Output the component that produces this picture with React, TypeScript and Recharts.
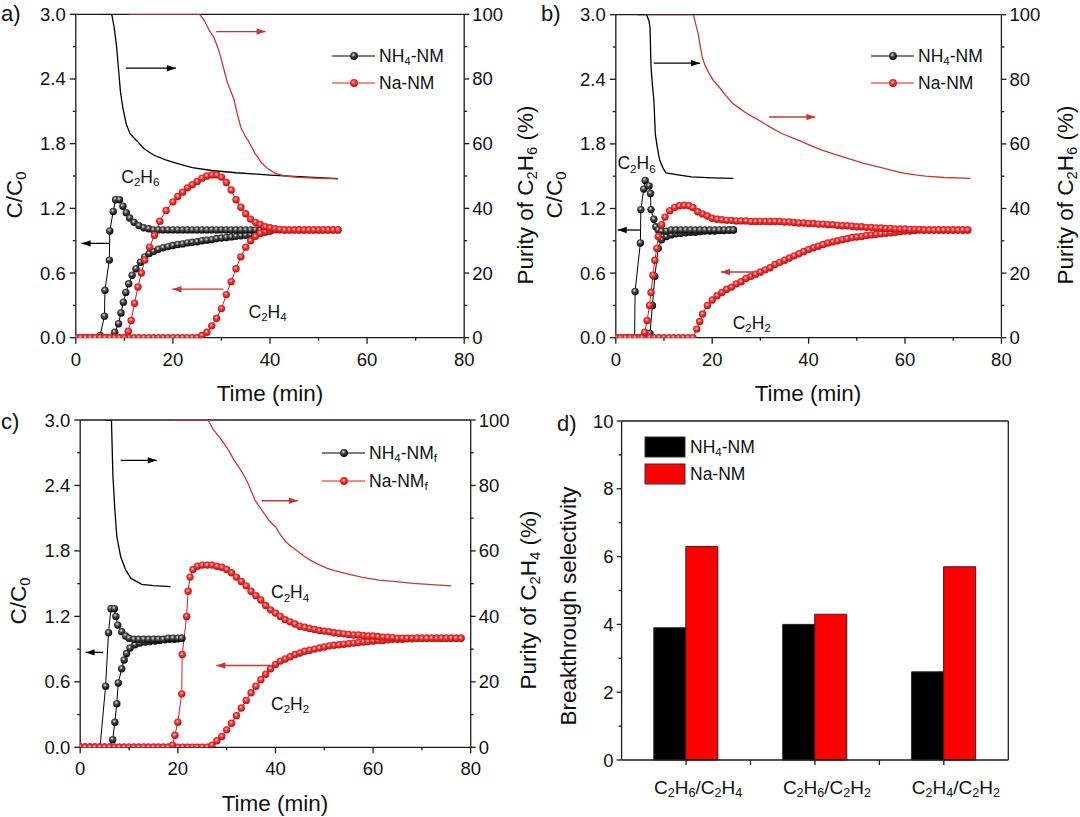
// App.tsx — four-panel breakthrough figure (a–c: C/C0 + purity, d: selectivity bars).

import React from 'react';
import {
  LineChart,
  Line,
  XAxis,
  YAxis,
  ReferenceLine,
  ReferenceDot,
  BarChart,
  Bar,
} from 'recharts';

type Pt = [number, number];

const FONT = '"Liberation Sans", Arial, Helvetica, sans-serif';
const AX = '#1c1c1c';
const K_LINE = '#000000';
const R_LINE = '#e01a1a';
const R_PURITY = '#c63a34';

// ---------- panel a: C2H6 / C2H4 ----------
const aNH4Ethane: Pt[] = [
  [0, 0], [1, 0], [2, 0], [3, 0], [4, 0], [5, 0.02], [5.9, 0.2], [6, 0.44], [6.9, 0.72], [7, 0.99],
  [7.7, 1.17], [8.2, 1.28], [9, 1.28], [9.7, 1.22], [10.4, 1.16], [11.1, 1.11], [12, 1.07], [13, 1.04],
  [14, 1.02], [15, 1.01], [16, 1], [17, 1], [18, 1], [19, 1], [20, 1], [21, 1], [22, 1], [23, 1], [24, 1],
  [25, 1], [26, 1], [27, 1], [28, 1], [29, 1], [30, 1], [31, 1], [32, 1], [33, 1], [34, 1], [35, 1],
  [36, 1], [37, 1], [38, 1], [39, 1], [40, 1],
];
const aNH4Ethylene: Pt[] = [
  [0, 0], [1, 0], [2, 0], [3, 0], [4, 0], [5, 0], [6, 0], [7, 0], [8, 0.05], [8.8, 0.13], [9.3, 0.23],
  [9.8, 0.33], [10.3, 0.42], [10.9, 0.5], [11.6, 0.58], [12.4, 0.64], [13.3, 0.7], [14.2, 0.75],
  [15.1, 0.78], [16, 0.8], [17, 0.82], [18, 0.835], [19, 0.845], [20, 0.855], [21, 0.865], [22, 0.87],
  [23, 0.88], [24, 0.885], [25, 0.89], [26, 0.9], [27, 0.905], [28, 0.91], [29, 0.92], [30, 0.925],
  [31, 0.93], [32, 0.935], [33, 0.94], [34, 0.945], [35, 0.95], [36, 0.955], [37, 0.96], [38, 0.97],
  [39, 0.98], [40, 0.99],
];
const aNaEthane: Pt[] = [
  [0, 0], [1, 0], [2, 0], [3, 0], [4, 0], [5, 0], [6, 0], [7, 0], [8, 0], [9, 0], [10, 0], [10.8, 0.06],
  [11.4, 0.16], [12.1, 0.32], [12.8, 0.47], [13.5, 0.6], [14.2, 0.72], [15.2, 0.84], [16.2, 0.95],
  [17.3, 1.08], [18.6, 1.18], [20, 1.26], [21, 1.31], [22, 1.35], [23, 1.39], [24, 1.42], [25, 1.45],
  [26, 1.48], [27, 1.5], [28, 1.51], [29, 1.51], [30, 1.49], [31, 1.44], [32, 1.37], [33, 1.28],
  [34, 1.21], [35, 1.15], [36, 1.1], [37, 1.07], [38, 1.05], [39, 1.03], [40, 1.02], [41, 1.01],
  [42, 1.005], [43, 1], [44, 1], [45, 1], [46, 1], [47, 1], [48, 1], [49, 1], [50, 1], [51, 1], [52, 1],
  [53, 1], [54, 1],
];
const aNaEthylene: Pt[] = [
  [0, 0], [1, 0], [2, 0], [3, 0], [4, 0], [5, 0], [6, 0], [7, 0], [8, 0], [9, 0], [10, 0], [11, 0],
  [12, 0], [13, 0], [14, 0], [15, 0], [16, 0], [17, 0], [18, 0], [19, 0], [20, 0], [21, 0], [22, 0],
  [23, 0], [24, 0], [25, 0], [26, 0.02], [27, 0.05], [28, 0.11], [29, 0.18], [30, 0.27], [31, 0.4],
  [32, 0.52], [33, 0.64], [34, 0.75], [35, 0.84], [36, 0.9], [37, 0.94], [38, 0.97], [39, 0.985],
  [40, 0.995], [41, 1], [42, 1], [43, 1], [44, 1], [45, 1], [46, 1], [47, 1], [48, 1], [49, 1], [50, 1],
  [51, 1], [52, 1], [53, 1], [54, 1],
];
const aNH4Purity: Pt[] = [
  [5, 100], [7.4, 100], [7.9, 96], [8.4, 90], [8.8, 83], [9.2, 76], [9.7, 71], [10.4, 66], [11.2, 63],
  [12.5, 61], [14, 58.5], [16, 56.5], [18.5, 55], [21, 53.8], [24, 52.6], [28, 51.7], [33, 51],
  [40, 50.3], [47, 49.7], [54, 49.2],
];
const aNaPurity: Pt[] = [
  [11, 100], [25.5, 100], [26.5, 98], [27.5, 95], [28.4, 93], [29.2, 90], [29.8, 87], [30.5, 83],
  [31.2, 79], [32, 76], [32.6, 73.5], [33.3, 69], [34, 65], [35, 62], [35.5, 61], [36.2, 59], [36.9, 57],
  [37.6, 55.5], [38.3, 54], [39.5, 52.3], [41.1, 50.8], [43, 50], [46, 49.6], [50, 49.3], [54, 49.1],
];

// ---------- panel b: C2H6 / C2H2 ----------
const bNH4Ethane: Pt[] = [
  [0, 0], [1, 0], [2, 0], [3, 0], [3.9, 0], [4, 0.43], [5.1, 0.88], [5.2, 1.19], [5.8, 1.38], [6.1, 1.46],
  [6.9, 1.41], [7.2, 1.34], [7.3, 1.19], [7.9, 1.1], [8.3, 1.03], [8.8, 1], [9.5, 0.99], [10.5, 0.99],
  [11.5, 1], [12.5, 1], [13.5, 1], [14.5, 1], [15.5, 1], [16.5, 1], [17.5, 1], [18.5, 1], [19.5, 1],
  [20.5, 1], [21.5, 1], [22.5, 1], [23.5, 1], [24.4, 1],
];
const bNH4Acetylene: Pt[] = [
  [0, 0], [1, 0], [2, 0], [3, 0], [4, 0], [5, 0], [6, 0], [6.6, 0], [7.1, 0.04], [7.6, 0.3], [8.1, 0.57],
  [8.8, 0.83], [9.5, 0.91], [10.5, 0.94], [11.5, 0.955], [12.5, 0.965], [13.5, 0.97], [14.5, 0.975],
  [15.5, 0.98], [16.5, 0.98], [17.5, 0.985], [18.5, 0.99], [19.5, 0.99], [20.5, 0.99], [21.5, 0.995],
  [22.5, 0.995], [23.5, 1], [24.4, 1],
];
const bNaEthane: Pt[] = [
  [0, 0], [1, 0], [2, 0], [3, 0], [4, 0], [5, 0], [5.5, 0], [6, 0.05], [6.5, 0.16], [7, 0.3], [7.3, 0.42],
  [7.7, 0.58], [8.1, 0.72], [8.5, 0.83], [8.8, 0.94], [9.5, 1.05], [10.2, 1.12], [11.2, 1.18],
  [12.2, 1.21], [13.2, 1.225], [14.2, 1.23], [15.2, 1.225], [16, 1.21], [17, 1.17], [18, 1.15],
  [19, 1.13], [20, 1.11], [21, 1.1], [22, 1.095], [23, 1.09], [24, 1.09], [25, 1.085], [26, 1.085],
  [27, 1.085], [28, 1.08], [29, 1.08], [30, 1.08], [31, 1.08], [32, 1.08], [33, 1.08], [34, 1.08],
  [35, 1.075], [36, 1.075], [37, 1.07], [38, 1.065], [39, 1.065], [40, 1.06], [41, 1.06], [42, 1.055],
  [43, 1.055], [44, 1.05], [45, 1.05], [46, 1.045], [47, 1.04], [48, 1.04], [49, 1.035], [50, 1.03],
  [51, 1.03], [52, 1.025], [53, 1.025], [54, 1.02], [55, 1.02], [56, 1.015], [57, 1.015], [58, 1.01],
  [59, 1.01], [60, 1.01], [61, 1.005], [62, 1.005], [63, 1.005], [64, 1], [65, 1], [66, 1], [67, 1],
  [68, 1], [69, 1], [70, 1], [71, 1], [72, 1], [73, 1],
];
const bNaAcetylene: Pt[] = [
  [0, 0], [1, 0], [2, 0], [3, 0], [4, 0], [5, 0], [6, 0], [7, 0], [8, 0], [9, 0], [10, 0], [11, 0],
  [12, 0], [13, 0], [14, 0], [15, 0], [16, 0], [16.8, 0.08], [17.4, 0.15], [18, 0.22], [19, 0.3],
  [20, 0.35], [21, 0.39], [22, 0.42], [23, 0.45], [24, 0.47], [25, 0.5], [26, 0.52], [27, 0.55],
  [28, 0.57], [29, 0.59], [30, 0.61], [31, 0.63], [32, 0.65], [33, 0.68], [34, 0.7], [35, 0.72],
  [36, 0.74], [37, 0.76], [38, 0.78], [39, 0.8], [40, 0.82], [41, 0.835], [42, 0.85], [43, 0.865],
  [44, 0.88], [45, 0.89], [46, 0.9], [47, 0.91], [48, 0.92], [49, 0.93], [50, 0.935], [51, 0.94],
  [52, 0.95], [53, 0.955], [54, 0.96], [55, 0.965], [56, 0.97], [57, 0.975], [58, 0.98], [59, 0.985],
  [60, 0.99], [61, 0.99], [62, 0.995], [63, 1], [64, 1], [65, 1], [66, 1], [67, 1], [68, 1], [69, 1],
  [70, 1], [71, 1], [72, 1], [73, 1],
];
const bNH4Purity: Pt[] = [
  [4.5, 100], [6.4, 100], [6.9, 98], [7.1, 96], [7.3, 84], [7.6, 78], [7.9, 73.6], [8.2, 63], [8.6, 59],
  [9.1, 55], [9.8, 52.5], [10.4, 51], [12.9, 50.4], [15.7, 49.8], [20, 49.5], [24.4, 49.3],
];
const bNaPurity: Pt[] = [
  [6.5, 100], [16.1, 100], [16.6, 97], [17.1, 94], [17.9, 87], [18.6, 84], [19.3, 82], [20.3, 79.5],
  [21.4, 77.7], [22.8, 75], [24.3, 72.5], [25.7, 71], [27.1, 69.5], [28.9, 68], [30.7, 66.4],
  [32.5, 64.8], [34.3, 63.3], [36.4, 62], [38.6, 60.7], [40.7, 59.3], [42.9, 58], [45, 57], [47.1, 56],
  [49.3, 55], [51.4, 54], [53.6, 53.2], [55.7, 52.4], [57.9, 51.6], [60, 50.9], [62.1, 50.4],
  [64.3, 50], [68, 49.6], [73.6, 49.3],
];

// ---------- panel c: C2H4 / C2H2 (NMf) ----------
const cNH4Ethylene: Pt[] = [
  [0, 0], [1, 0], [2, 0], [3, 0], [4.06, 0], [5.2, 0.56], [5.8, 1.05], [6.3, 1.27], [7, 1.27], [7.3, 1.2],
  [7.7, 1.12], [8.5, 1.06], [9.3, 1.02], [10, 1], [11, 0.99], [12, 0.99], [13, 0.99], [14, 0.99],
  [15, 0.99], [16, 0.99], [17, 0.99], [18, 1], [19, 1], [20, 1], [20.8, 1],
];
const cNH4Acetylene: Pt[] = [
  [0, 0], [1, 0], [2, 0], [3, 0], [4, 0], [5, 0], [6, 0], [6.65, 0.07], [7.1, 0.23], [7.5, 0.4],
  [7.8, 0.59], [8.5, 0.72], [9, 0.8], [9.5, 0.86], [10.2, 0.91], [11.2, 0.94], [12.2, 0.955],
  [13.3, 0.965], [14.3, 0.97], [15.3, 0.975], [16.3, 0.98], [17.3, 0.985], [18.3, 0.99], [19.3, 0.99],
  [20.1, 0.995], [20.8, 1],
];
const cNaEthylene: Pt[] = [
  [0, 0], [1, 0], [2, 0], [3, 0], [4, 0], [5, 0], [6, 0], [7, 0], [8, 0], [9, 0], [10, 0], [11, 0],
  [12, 0], [13, 0], [14, 0], [15, 0], [16, 0], [17, 0], [18, 0], [18.9, 0.02], [19.4, 0.11], [20, 0.23],
  [20.8, 0.49], [20.9, 0.85], [21.8, 1.2], [22.1, 1.43], [22.5, 1.56], [23.1, 1.63], [24, 1.66],
  [25, 1.67], [26, 1.67], [27, 1.67], [28, 1.66], [29, 1.65], [30, 1.63], [31, 1.6], [32, 1.56],
  [33, 1.52], [34, 1.48], [35, 1.43], [36, 1.39], [37, 1.35], [38, 1.3], [39, 1.26], [40, 1.23],
  [41, 1.2], [42, 1.17], [43, 1.15], [44, 1.13], [45, 1.11], [46, 1.1], [47, 1.09], [48, 1.08],
  [49, 1.07], [50, 1.065], [51, 1.06], [52, 1.05], [53, 1.045], [54, 1.04], [55, 1.035], [56, 1.03],
  [57, 1.03], [58, 1.025], [59, 1.02], [60, 1.02], [61, 1.015], [62, 1.01], [63, 1.01], [64, 1.005],
  [65, 1], [66, 1], [67, 1], [68, 1], [69, 1], [70, 1], [71, 1], [72, 1], [73, 1], [74, 1], [75, 1],
  [76, 1], [77, 1], [78, 1],
];
const cNaAcetylene: Pt[] = [
  [0, 0], [1, 0], [2, 0], [3, 0], [4, 0], [5, 0], [6, 0], [7, 0], [8, 0], [9, 0], [10, 0], [11, 0],
  [12, 0], [13, 0], [14, 0], [15, 0], [16, 0], [17, 0], [18, 0], [19, 0], [20, 0], [21, 0], [22, 0],
  [23, 0], [24, 0], [25, 0], [26, 0], [27, 0.02], [28, 0.06], [29, 0.1], [30, 0.16], [31, 0.22],
  [32, 0.29], [33, 0.36], [34, 0.43], [35, 0.5], [36, 0.56], [37, 0.62], [38, 0.67], [39, 0.72],
  [40, 0.76], [41, 0.79], [42, 0.81], [43, 0.83], [44, 0.85], [45, 0.865], [46, 0.88], [47, 0.89],
  [48, 0.9], [49, 0.91], [50, 0.92], [51, 0.93], [52, 0.935], [53, 0.94], [54, 0.945], [55, 0.95],
  [56, 0.955], [57, 0.96], [58, 0.965], [59, 0.97], [60, 0.975], [61, 0.98], [62, 0.98], [63, 0.985],
  [64, 0.99], [65, 0.99], [66, 0.99], [67, 0.995], [68, 0.995], [69, 1], [70, 1], [71, 1], [72, 1],
  [73, 1], [74, 1], [75, 1], [76, 1], [77, 1], [78, 1],
];
const cNH4Purity: Pt[] = [
  [5.1, 100], [6.4, 100], [6.7, 83], [7.1, 72.5], [7.5, 64.4], [8.3, 58.2], [9.3, 54.2], [10.4, 51.6],
  [12.6, 49.8], [15, 49.4], [18.5, 49.1],
];
const cNaPurity: Pt[] = [
  [18.8, 100], [26.2, 100], [27.3, 97], [28.4, 95], [29.4, 92.9], [30.5, 90.5], [31.5, 87.8],
  [32.2, 86.3], [32.9, 84.7], [33.7, 82.6], [34.4, 80.6], [35.1, 78], [35.8, 75.6], [36.5, 74],
  [37.2, 72.5], [37.9, 71], [38.6, 69.5], [39.3, 68.4], [40, 67.4], [41, 65], [42.1, 62.8], [43.1, 61.5],
  [44.2, 60.3], [45.6, 58.7], [47.1, 57.2], [48.8, 55.9], [50.6, 54.7], [52.3, 53.9], [54.1, 53.2],
  [57.6, 52], [61.2, 51.1], [64.7, 50.6], [68.2, 50.1], [72, 49.7], [76, 49.3],
];

// ---------- panel d: breakthrough selectivity ----------
const selPairs = ['C_2H_6/C_2H_4', 'C_2H_6/C_2H_2', 'C_2H_4/C_2H_2'];
const selNH4 = [3.9, 4.0, 2.6];
const selNa = [6.3, 4.3, 5.7];

// axis ticks
const timeTicks = [0, 10, 20, 30, 40, 50, 60, 70, 80];
const timeMajors = [0, 20, 40, 60, 80];
const ccTicks = [0, 0.3, 0.6, 0.9, 1.2, 1.5, 1.8, 2.1, 2.4, 2.7, 3];
const ccMajors = [0, 0.6, 1.2, 1.8, 2.4, 3];
const purTicks = [0, 10, 20, 30, 40, 50, 60, 70, 80, 90, 100];
const purMajors = [0, 20, 40, 60, 80, 100];
const selTicks = [0, 1, 2, 3, 4, 5, 6, 7, 8, 9, 10];
const selMajors = [0, 2, 4, 6, 8, 10];

const rows = (pts: Pt[]) => pts.map(([t, v]) => ({ t, v }));

// text with "_x" marking a subscript character
function Chem({ s, fs }: { s: string; fs: number }) {
  const parts = s.split(/(_.)/).filter(Boolean);
  const shift = fs * 0.3;
  let down = false;
  return (
    <>
      {parts.map((p, i) => {
        if (p.startsWith('_')) {
          const el = (
            <tspan key={i} fontSize={fs * 0.66} dy={down ? 0 : shift}>
              {p[1]}
            </tspan>
          );
          down = true;
          return el;
        }
        const el = (
          <tspan key={i} dy={down ? -shift : 0}>
            {p}
          </tspan>
        );
        down = false;
        return el;
      })}
    </>
  );
}

function yTick(side: 'left' | 'right', majors: number[], fmt: (v: number) => string, size: number, gap: number) {
  return (p: any) => {
    const { x, y, payload } = p;
    const major = majors.includes(payload.value);
    const dir = side === 'left' ? 1 : -1;
    const ax = x + dir * (size + gap);
    const len = major ? size : 3;
    return (
      <g>
        <line x1={ax} x2={ax - dir * len} y1={y} y2={y} stroke={AX} strokeWidth={1.3} />
        {major && (
          <text x={x} y={y} textAnchor={side === 'left' ? 'end' : 'start'} dominantBaseline="central"
            fontSize={18.5} fontFamily={FONT} fill="#111">
            {fmt(payload.value)}
          </text>
        )}
      </g>
    );
  };
}

function timeTick(p: any) {
  const { x, y, payload } = p;
  const major = timeMajors.includes(payload.value);
  const ay = y - 15;
  return (
    <g>
      <line x1={x} x2={x} y1={ay} y2={ay + (major ? 6 : 3)} stroke={AX} strokeWidth={1.3} />
      {major && (
        <text x={x} y={ay + 28} textAnchor="middle" fontSize={18.5} fontFamily={FONT} fill="#111">
          {payload.value}
        </text>
      )}
    </g>
  );
}

const ccTick = yTick('left', ccMajors, (v) => v.toFixed(1), 6, 4);
const purTick = yTick('right', purMajors, (v) => String(v), 5, 3);
const selTick = yTick('left', selMajors, (v) => String(v), 5, 3);

const bead = (fill: string) => (p: any) => {
  if (p.cx == null || p.cy == null) return <g key={`b${p.index}`} />;
  return <circle key={`b${p.index}`} cx={p.cx} cy={p.cy} r={3.7} fill={fill} />;
};

function arrowHead(dir: number, color: string) {
  return (p: any) => (
    <polygon
      points={`${p.cx},${p.cy} ${p.cx - dir * 9},${p.cy - 3.2} ${p.cx - dir * 9},${p.cy + 3.2}`}
      fill={color}
    />
  );
}

function note(label: string) {
  return (p: any) => (
    <text x={p.cx} y={p.cy} textAnchor="middle" dominantBaseline="central" fontSize={17.5}
      fontFamily={FONT} fill="#111">
      <Chem s={label} fs={17.5} />
    </text>
  );
}

interface PanelSpec {
  left: number;
  top: number;
  width: number;
  height: number;
  margin: { top: number; right: number; bottom: number; left: number };
  nh4: Pt[][];
  na: Pt[][];
  nh4Purity: Pt[];
  naPurity: Pt[];
  arrows: [number, number, number, string][];
  notes: [string, number, number][];
}

function BreakthroughPanel({ spec }: { spec: PanelSpec }) {
  return (
    <div style={{ position: 'absolute', left: spec.left, top: spec.top }}>
      <LineChart width={spec.width} height={spec.height} margin={spec.margin}>
        <XAxis type="number" dataKey="t" domain={[0, 80]} ticks={timeTicks} interval={0}
          height={40} tickLine={false} tickSize={6} tickMargin={9} tick={timeTick}
          axisLine={{ stroke: AX, strokeWidth: 1.3 }} allowDataOverflow />
        <YAxis yAxisId="l" domain={[0, 3]} ticks={ccTicks} interval={0} width={50}
          tickLine={false} tickSize={6} tickMargin={4} tick={ccTick}
          axisLine={{ stroke: AX, strokeWidth: 1.3 }} allowDataOverflow />
        <YAxis yAxisId="r" orientation="right" domain={[0, 100]} ticks={purTicks} interval={0}
          width={50} tickLine={false} tickSize={5} tickMargin={3} tick={purTick}
          axisLine={{ stroke: AX, strokeWidth: 1.3 }} allowDataOverflow />
        <ReferenceLine yAxisId="l" y={3} stroke={AX} strokeWidth={1.3} />

        <Line yAxisId="r" data={rows(spec.nh4Purity)} dataKey="v" type="linear" stroke={K_LINE}
          strokeWidth={1.3} dot={false} activeDot={false} isAnimationActive={false} />
        <Line yAxisId="r" data={rows(spec.naPurity)} dataKey="v" type="linear" stroke={R_PURITY}
          strokeWidth={1.3} dot={false} activeDot={false} isAnimationActive={false} />

        {spec.nh4.map((s, i) => (
          <Line key={`k${i}`} yAxisId="l" data={rows(s)} dataKey="v" type="linear" stroke={K_LINE}
            strokeWidth={1} dot={bead('url(#ballK)')} activeDot={false} isAnimationActive={false} />
        ))}
        {spec.na.map((s, i) => (
          <Line key={`r${i}`} yAxisId="l" data={rows(s)} dataKey="v" type="linear" stroke={R_LINE}
            strokeWidth={1} dot={bead('url(#ballR)')} activeDot={false} isAnimationActive={false} />
        ))}

        {spec.arrows.flatMap(([x1, x2, y, c], i) => [
          <ReferenceLine key={`al${i}`} yAxisId="l" segment={[{ x: x1, y }, { x: x2, y }]}
            stroke={c} strokeWidth={1.3} />,
          <ReferenceDot key={`ah${i}`} yAxisId="l" x={x2} y={y} shape={arrowHead(x2 > x1 ? 1 : -1, c)} />,
        ])}
        {spec.notes.map(([label, x, y], i) => (
          <ReferenceDot key={`n${i}`} yAxisId="l" x={x} y={y} shape={note(label)} />
        ))}
      </LineChart>
    </div>
  );
}

const panelA: PanelSpec = {
  left: 0, top: 0, width: 540, height: 410,
  margin: { top: 14.3, right: 25.8, bottom: 32.3, left: 25.8 },
  nh4: [aNH4Ethylene, aNH4Ethane],
  na: [aNaEthylene, aNaEthane],
  nh4Purity: aNH4Purity,
  naPurity: aNaPurity,
  arrows: [[10.3, 20.6, 2.5, K_LINE], [28.9, 39.1, 2.84, R_PURITY], [7, 1.2, 0.875, K_LINE], [30.4, 19.9, 0.45, R_PURITY]],
  notes: [['C_2H_6', 13.3, 1.49], ['C_2H_4', 39.5, 0.24]],
};
const panelB: PanelSpec = {
  left: 540, top: 0, width: 540, height: 410,
  margin: { top: 14.7, right: 28.6, bottom: 32.3, left: 25.8 },
  nh4: [bNH4Acetylene, bNH4Ethane],
  na: [bNaAcetylene, bNaEthane],
  nh4Purity: bNH4Purity,
  naPurity: bNaPurity,
  arrows: [[7.9, 17.5, 2.55, K_LINE], [31.8, 41.4, 2.05, R_PURITY], [5, 0.4, 1.0, K_LINE], [29.3, 21.8, 0.61, R_PURITY]],
  notes: [['C_2H_6', 4.3, 1.62], ['C_2H_2', 28.2, 0.14]],
};
const panelC: PanelSpec = {
  left: 0, top: 410, width: 540, height: 407,
  margin: { top: 10, right: 19.3, bottom: 29.7, left: 30.2 },
  nh4: [cNH4Acetylene, cNH4Ethylene],
  na: [cNaAcetylene, cNaEthylene],
  nh4Purity: cNH4Purity,
  naPurity: cNaPurity,
  arrows: [[8.3, 15.7, 2.63, K_LINE], [37.2, 44.6, 2.26, R_PURITY], [4.7, 1.1, 0.87, K_LINE], [38.9, 27.9, 0.75, R_PURITY]],
  notes: [['C_2H_4', 43, 1.42], ['C_2H_2', 43, 0.4]],
};

const D_PLOT_W = 540 - 31.6 - 50 - 70.7 - 1;

function pairTick(p: any) {
  const { x, y, payload, index } = p;
  const ay = y - 8;
  const half = D_PLOT_W / 6;
  return (
    <g>
      <line x1={x} x2={x} y1={ay} y2={ay + 5} stroke={AX} strokeWidth={1.3} />
      {index < 2 && <line x1={x + half} x2={x + half} y1={ay} y2={ay + 5} stroke={AX} strokeWidth={1.3} />}
      <text x={x + 12} y={ay + 27} textAnchor="middle" dominantBaseline="central" fontSize={19}
        fontFamily={FONT} fill="#111">
        <Chem s={payload.value} fs={19} />
      </text>
    </g>
  );
}

function SelectivityPanel() {
  const data = selPairs.map((pair, i) => ({ pair, nh4: selNH4[i], na: selNa[i] }));
  return (
    <div style={{ position: 'absolute', left: 540, top: 410 }}>
      <BarChart width={540} height={407} data={data} barCategoryGap="25%" barGap={0}
        margin={{ top: 11, right: 70.7, bottom: 17, left: 31.6 }}>
        <XAxis dataKey="pair" interval={0} height={40} tickLine={false} tickSize={5} tickMargin={3}
          tick={pairTick} axisLine={{ stroke: AX, strokeWidth: 1.3 }} />
        <YAxis yAxisId="l" domain={[0, 10]} ticks={selTicks} interval={0} width={50} tickLine={false}
          tickSize={5} tickMargin={3} tick={selTick} axisLine={{ stroke: AX, strokeWidth: 1.3 }} />
        <YAxis yAxisId="r" orientation="right" domain={[0, 10]} width={1} tick={false} tickLine={false}
          axisLine={{ stroke: AX, strokeWidth: 1.3 }} />
        <ReferenceLine yAxisId="l" y={10} stroke={AX} strokeWidth={1.3} />
        <Bar yAxisId="l" dataKey="nh4" fill="#000000" stroke="#222" strokeWidth={1} isAnimationActive={false} />
        <Bar yAxisId="l" dataKey="na" fill="#ff0000" stroke="#3a1a1a" strokeWidth={1} isAnimationActive={false} />
      </BarChart>
    </div>
  );
}

// figure-level titles, panel letters and legends
const titles: [string, number, number, boolean][] = [
  ['C/C_0', 14, 195, true],
  ['Purity of C_2H_6 (%)', 525, 195, true],
  ['Time (min)', 270, 393, false],
  ['C/C_0', 554, 195, true],
  ['Purity of C_2H_6 (%)', 1065, 195, true],
  ['Time (min)', 808, 393, false],
  ['C/C_0', 18, 601, true],
  ['Purity of C_2H_4 (%)', 528, 600, true],
  ['Time (min)', 275, 803, false],
  ['Breakthrough selectivity', 568, 606, true],
];
const letters: [string, number, number][] = [
  ['a)', 1, 21],
  ['b)', 541, 21],
  ['c)', 1, 429],
  ['d)', 557, 431],
];
const beadLegends: [string, string, number, number][] = [
  ['NH_4-NM', 'K', 332, 56],
  ['Na-NM', 'R', 332, 83],
  ['NH_4-NM', 'K', 871, 56],
  ['Na-NM', 'R', 871, 83],
  ['NH_4-NM_f', 'K', 322, 453],
  ['Na-NM_f', 'R', 322, 481],
];
const boxLegends: [string, string, number][] = [
  ['NH_4-NM', '#000000', 447],
  ['Na-NM', '#ff0000', 474],
];

function Overlay() {
  return (
    <svg width={1080} height={817} style={{ position: 'absolute', left: 0, top: 0, pointerEvents: 'none' }}
      fontFamily={FONT} fill="#111">
      {titles.map(([s, x, y, rot], i) => (
        <text key={`t${i}`} x={x} y={y} textAnchor="middle" dominantBaseline="central" fontSize={22.5}
          transform={rot ? `rotate(-90 ${x} ${y})` : undefined}>
          <Chem s={s} fs={22.5} />
        </text>
      ))}
      {letters.map(([s, x, y], i) => (
        <text key={`p${i}`} x={x} y={y} fontSize={22}>{s}</text>
      ))}
      {beadLegends.map(([s, c, x, y], i) => (
        <g key={`lg${i}`}>
          <line x1={x} x2={x + 43} y1={y} y2={y} stroke={c === 'K' ? K_LINE : R_LINE} strokeWidth={1.2} />
          <circle cx={x + 22} cy={y} r={3.9} fill={c === 'K' ? 'url(#ballK)' : 'url(#ballR)'} />
          <text x={x + 47} y={y} dominantBaseline="central" fontSize={17.5}>
            <Chem s={s} fs={17.5} />
          </text>
        </g>
      ))}
      {boxLegends.map(([s, c, y], i) => (
        <g key={`bx${i}`}>
          <rect x={645} y={y - 10} width={40} height={20} fill={c} stroke="#333" strokeWidth={1} />
          <text x={690} y={y} dominantBaseline="central" fontSize={17.5}>
            <Chem s={s} fs={17.5} />
          </text>
        </g>
      ))}
    </svg>
  );
}

export default function App() {
  return (
    <div style={{ position: 'absolute', left: 0, top: 0, width: 1080, height: 817, background: '#fff', fontFamily: FONT }}>
      <svg width={0} height={0} style={{ position: 'absolute' }}>
        <defs>
          <radialGradient id="ballK" cx="0.42" cy="0.36" r="0.62">
            <stop offset="0" stopColor="#e6e6e6" />
            <stop offset="0.4" stopColor="#4a4a4a" />
            <stop offset="1" stopColor="#050505" />
          </radialGradient>
          <radialGradient id="ballR" cx="0.45" cy="0.4" r="0.6">
            <stop offset="0" stopColor="#ffe0e0" />
            <stop offset="0.38" stopColor="#f23a3a" />
            <stop offset="1" stopColor="#c00a0a" />
          </radialGradient>
        </defs>
      </svg>
      <BreakthroughPanel spec={panelA} />
      <BreakthroughPanel spec={panelB} />
      <BreakthroughPanel spec={panelC} />
      <SelectivityPanel />
      <Overlay />
    </div>
  );
}
